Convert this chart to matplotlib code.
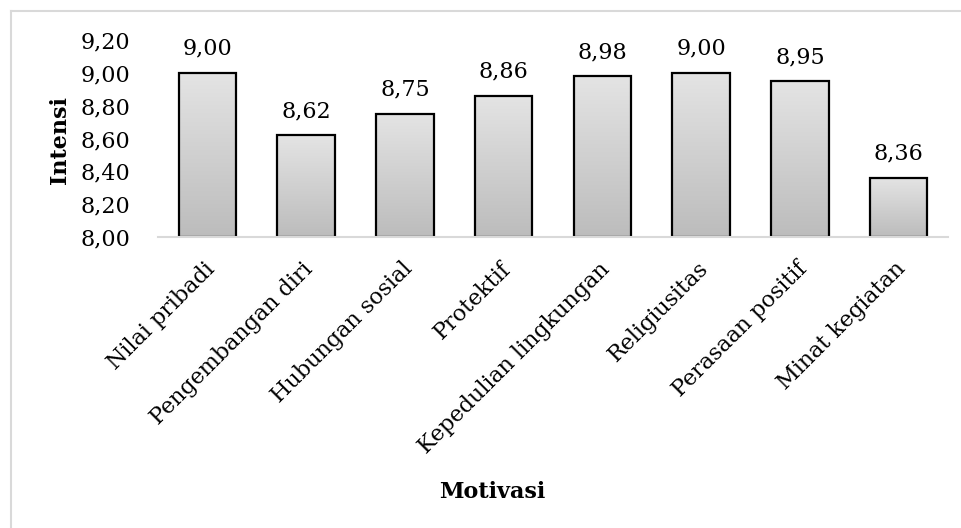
import numpy as np
import matplotlib
matplotlib.use("Agg")
import matplotlib.pyplot as plt
from matplotlib.lines import Line2D
from matplotlib.colors import LinearSegmentedColormap
from matplotlib.ticker import FuncFormatter
import matplotlib.transforms as mtransforms

categories = ["Nilai pribadi", "Pengembangan diri", "Hubungan sosial", "Protektif",
              "Kepedulian lingkungan", "Religiusitas", "Perasaan positif", "Minat kegiatan"]
values = [9.00, 8.62, 8.75, 8.86, 8.98, 9.00, 8.95, 8.36]
y_ticks = [8.00, 8.20, 8.40, 8.60, 8.80, 9.00, 9.20]
x_title = "Motivasi"
y_title = "Intensi"

YMIN, YMAX = 8.0, 9.2
FONT = "DejaVu Serif"
FS = 16

def fmt(v):
    return f"{v:.2f}".replace(".", ",")

W, H = 962, 528
fig = plt.figure(figsize=(W / 100, H / 100), dpi=100)
ax = fig.add_axes([158 / W, 1 - 237 / H, 790 / W, 197 / H])

x = np.arange(len(categories))
bw = 0.58
bars = ax.bar(x, np.array(values) - YMIN, bottom=YMIN, width=bw,
              facecolor="none", edgecolor="black", linewidth=1.6, zorder=3)

cmap = LinearSegmentedColormap.from_list("g", ["#bcbcbc", "#e4e4e4"])
grad = np.linspace(0, 1, 256).reshape(-1, 1)
for b in bars:
    x0 = b.get_x()
    im = ax.imshow(grad, cmap=cmap, origin="lower", aspect="auto",
                   extent=[x0, x0 + b.get_width(), YMIN, YMIN + b.get_height()],
                   zorder=2, interpolation="bicubic")
    im.set_clip_path(b)

for xi, v in zip(x, values):
    ax.annotate(fmt(v), (xi, v), xytext=(0, 13), textcoords="offset points",
                ha="center", va="baseline", fontsize=FS, family=FONT)

ax.set_xlim(-0.5, len(categories) - 0.5)
ax.set_ylim(YMIN, YMAX)
ax.set_yticks(y_ticks)
ax.yaxis.set_major_formatter(FuncFormatter(lambda v, p: fmt(v)))
ax.tick_params(axis="y", length=0, pad=20)
ax.tick_params(axis="x", length=0, pad=15)
ax.set_xticks(x)
ax.set_xticklabels(categories)
offset = mtransforms.ScaledTranslation(-4 / 100, 0, fig.dpi_scale_trans)
for lab in ax.get_xticklabels():
    lab.set_rotation(45)
    lab.set_ha("right")
    lab.set_va("top")
    lab.set_rotation_mode("anchor")
    lab.set_fontsize(FS)
    lab.set_family(FONT)
    lab.set_transform(lab.get_transform() + offset)
for lab in ax.get_yticklabels():
    lab.set_fontsize(FS)
    lab.set_family(FONT)

for s in ["top", "right", "left"]:
    ax.spines[s].set_visible(False)
ax.spines["bottom"].set_color("#d9d9d9")
ax.spines["bottom"].set_linewidth(1.5)
ax.spines["bottom"].set_zorder(4)

fig.text(60 / W, 1 - 140 / H, y_title, rotation=90, ha="center", va="center",
         fontsize=FS, family=FONT, fontweight="bold")
fig.text(492 / W, 1 - 492 / H, x_title, ha="center", va="center",
         fontsize=FS, family=FONT, fontweight="bold")

# chart border (partially cropped)
yb = 1 - 11 / H
xb = 10.5 / W
fig.add_artist(Line2D([xb, xb], [0, yb], color="#d9d9d9", lw=1.5, transform=fig.transFigure))
fig.add_artist(Line2D([xb, 1], [yb, yb], color="#d9d9d9", lw=1.5, transform=fig.transFigure))

fig.savefig("out.png", dpi=100, facecolor="white")
